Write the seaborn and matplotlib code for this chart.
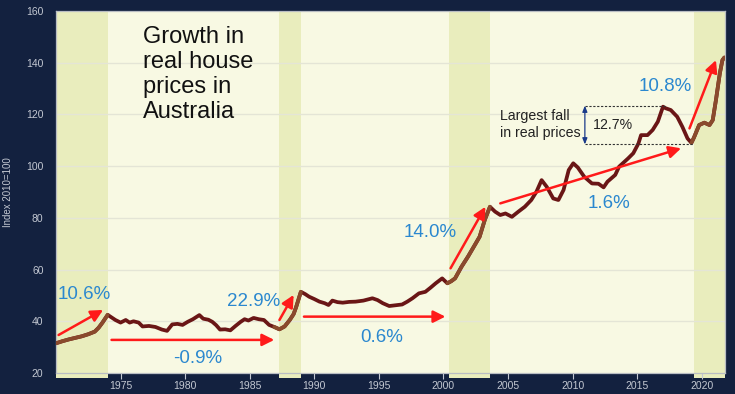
import matplotlib
matplotlib.use("Agg")
import matplotlib.pyplot as plt
import seaborn as sns
import pandas as pd
import numpy as np

# ---- data ----
years = [1970.0, 1970.5, 1971.0, 1971.5, 1972.0, 1972.5, 1973.0, 1973.3, 1973.6, 1974.0,
         1974.3, 1974.6, 1975.0, 1975.4, 1975.7, 1976.0, 1976.4, 1976.7, 1977.2, 1977.7,
         1978.2, 1978.6, 1979.0, 1979.4, 1979.8, 1980.2, 1980.6, 1981.1, 1981.4, 1981.8,
         1982.1, 1982.4, 1982.7, 1983.1, 1983.5, 1983.9, 1984.3, 1984.6, 1984.9, 1985.3,
         1985.7, 1986.1, 1986.5, 1986.9, 1987.3, 1987.7, 1988.1, 1988.4, 1988.6, 1988.96,
         1989.3, 1989.6, 1990.0, 1990.4, 1990.8, 1991.1, 1991.4, 1991.8, 1992.2, 1992.7,
         1993.2, 1993.8, 1994.5, 1994.9, 1995.3, 1995.8, 1996.3, 1996.8, 1997.2, 1997.6,
         1998.1, 1998.6, 1999.0, 1999.4, 1999.9, 2000.3, 2000.6, 2000.9, 2001.4, 2001.9,
         2002.5, 2002.8, 2003.2, 2003.6, 2004.0, 2004.4, 2004.8, 2005.3, 2005.8, 2006.3,
         2006.8, 2007.2, 2007.6, 2008.0, 2008.5, 2008.9, 2009.3, 2009.7, 2010.05, 2010.4,
         2010.9, 2011.5, 2012.0, 2012.4, 2012.7, 2013.3, 2013.6, 2014.3, 2014.7, 2015.1,
         2015.3, 2015.8, 2016.2, 2016.6, 2017.0, 2017.2, 2017.6, 2018.1, 2018.5, 2018.9,
         2019.2, 2019.4, 2019.8, 2020.2, 2020.6, 2020.85, 2021.1, 2021.4, 2021.6, 2021.75]
index_vals = [31.5, 32.3, 33.0, 33.6, 34.2, 35.0, 36.0, 37.5, 39.5, 42.5,
              41.5, 40.5, 39.5, 40.5, 39.5, 40.0, 39.5, 38.0, 38.2, 37.8,
              36.8, 36.3, 38.8, 39.0, 38.6, 39.8, 40.8, 42.4, 41.0, 40.6,
              39.8, 38.5, 36.8, 36.9, 36.5, 38.2, 39.8, 40.8, 40.3, 41.3,
              40.8, 40.5, 38.6, 37.8, 36.9, 38.0, 40.5, 42.8, 45.6, 51.4,
              50.5, 49.5, 48.6, 47.6, 47.0, 46.3, 48.0, 47.4, 47.2, 47.5,
              47.6, 48.0, 48.9, 48.2, 47.0, 45.9, 46.2, 46.5, 47.6, 48.9,
              50.8, 51.4, 53.0, 54.7, 56.6, 54.7, 55.5, 56.6, 61.1, 65.0,
              70.1, 72.7, 79.2, 84.3, 82.4, 81.1, 81.7, 80.4, 82.4, 84.3,
              86.9, 90.1, 94.6, 92.0, 87.5, 86.9, 90.8, 98.5, 101.1, 99.5,
              95.9, 93.3, 93.2, 91.8, 94.0, 96.6, 99.8, 103.0, 105.0, 108.8,
              112.0, 112.0, 114.0, 117.2, 123.0, 122.4, 121.7, 119.1, 115.2, 110.7,
              109.0, 111.1, 115.9, 116.8, 115.9, 117.8, 125.6, 135.9, 141.0, 142.0]

boom_starts = [1970.0, 1987.3, 2000.4, 2019.4]
boom_ends = [1974.0, 1988.95, 2003.6, 2021.8]

growth_labels = ["10.6%", "-0.9%", "22.9%", "0.6%", "14.0%", "1.6%", "10.8%"]
arrow_x0 = [1970.2, 1974.3, 1987.3, 1989.2, 2000.55, 2004.4, 2019.05]
arrow_y0 = [34.7, 32.8, 40.5, 41.8, 60.5, 85.6, 114.6]
arrow_x1 = [1973.65, 1986.9, 1988.4, 2000.15, 2003.25, 2018.4, 2021.1]
arrow_y1 = [44.4, 32.8, 50.2, 41.8, 84.3, 106.9, 141.0]
label_x = [1972.2, 1981.0, 1985.3, 1995.2, 1999.0, 2012.8, 2017.2]
label_y = [50.2, 25.8, 47.5, 33.9, 74.5, 85.6, 130.7]

x_ticks = [1975, 1980, 1985, 1990, 1995, 2000, 2005, 2010, 2015, 2020]
y_ticks = [20, 40, 60, 80, 100, 120, 140, 160]

fall_peak = 123.4
fall_trough = 108.4
fall_label = "12.7%"

df = pd.DataFrame({"year": years, "index": index_vals})

# ---- style ----
sns.set_theme(style="white")
plt.rcParams["font.family"] = ["Liberation Sans", "DejaVu Sans"]

BG = "#13213f"
PLOT_BG = "#f8f9e3"
SHADE = "#e9edbd"
DARK_LINE = "#6a1616"
BOOM_LINE = "#8a4a2c"
RED = "#ff1a1a"
BLUE = "#2b88cf"
TICK = "#c3c8d2"

fig = plt.figure(figsize=(7.35, 3.94), dpi=100, facecolor=BG)
ax = fig.add_axes([56 / 735, 21 / 394, 669 / 735, 362 / 394])
ax.set_facecolor(PLOT_BG)

for s, e in zip(boom_starts, boom_ends):
    ax.axvspan(s, e, ymin=-0.014, ymax=1.0, color=SHADE, zorder=0, lw=0, clip_on=False)

for yv in y_ticks[1:-1]:
    ax.axhline(yv, color="#e4e5d6", lw=1.0, zorder=0.5)

sns.lineplot(data=df, x="year", y="index", ax=ax, color=DARK_LINE, lw=2.7,
             zorder=3, legend=False)
for s, e in zip(boom_starts, boom_ends):
    sub = df[(df["year"] >= s - 0.45) & (df["year"] <= e + 0.05)]
    sns.lineplot(data=sub, x="year", y="index", ax=ax, color=BOOM_LINE, lw=2.7,
                 zorder=3.5, legend=False)

for lab, x0, y0, x1, y1, lx, ly in zip(growth_labels, arrow_x0, arrow_y0, arrow_x1,
                                       arrow_y1, label_x, label_y):
    ax.annotate("", xy=(x1, y1), xytext=(x0, y0),
                arrowprops=dict(arrowstyle="-|>,head_length=0.6,head_width=0.3",
                                color=RED, lw=1.8, shrinkA=0, shrinkB=0),
                zorder=4)
    ax.text(lx, ly, lab, color=BLUE, fontsize=13.5, ha="center", va="center", zorder=5)

# largest-fall annotation
ax.plot([2010.95, 2017.2], [fall_peak, fall_peak], ls=(0, (2, 1.5)), color="#333333", lw=0.8, zorder=4)
ax.plot([2010.95, 2019.3], [fall_trough, fall_trough], ls=(0, (2, 1.5)), color="#333333", lw=0.8, zorder=4)
ax.annotate("", xy=(2010.95, fall_peak), xytext=(2010.95, fall_trough),
            arrowprops=dict(arrowstyle="<|-|>,head_length=0.3,head_width=0.12",
                            color="#1a3a8a", lw=0.9, shrinkA=0, shrinkB=0), zorder=4)
ax.text(2011.6, (fall_peak + fall_trough) / 2, fall_label, fontsize=10.2,
        color="#222222", ha="left", va="center", zorder=5)
ax.text(2004.4, (fall_peak + fall_trough) / 2 + 0.3, "Largest fall\nin real prices",
        fontsize=10.2, color="#222222", ha="left", va="center", zorder=5,
        linespacing=1.3)

ax.text(1976.7, 154.3, "Growth in\nreal house\nprices in\nAustralia", fontsize=17,
        color="#111111", ha="left", va="top", linespacing=1.18, zorder=5)

ax.set_xlim(1970, 2021.8)
ax.set_ylim(20, 160)
ax.set_xticks(x_ticks)
ax.set_yticks(y_ticks)
ax.tick_params(axis="x", colors=TICK, labelsize=7.5, length=4, width=0.8, direction="out",
               bottom=True, pad=2)
ax.tick_params(axis="y", colors=TICK, labelsize=7.5, length=0, pad=9)
for lbl in ax.get_xticklabels() + ax.get_yticklabels():
    lbl.set_color(TICK)
ax.set_xlabel("")
ax.set_ylabel("Index 2010=100", color=TICK, fontsize=7, labelpad=10)
ax.yaxis.set_label_coords(-0.064, 0.5)
for sp in ax.spines.values():
    sp.set_color("#b9bdc3")
    sp.set_linewidth(0.9)

fig.savefig("out.png", dpi=100, facecolor=BG)
